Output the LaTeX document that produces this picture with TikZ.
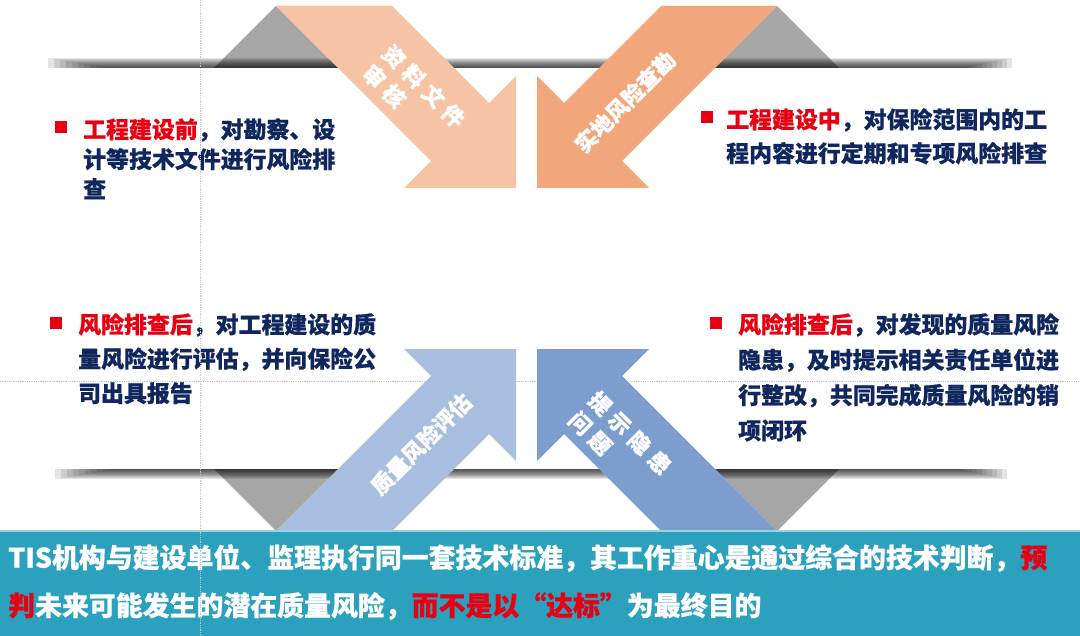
\documentclass[tikz,border=0pt]{standalone}
\usepackage{fontspec}
\newfontfamily\cjk{Noto Sans CJK SC}[BoldFeatures={FakeBold=0.6}]
\usetikzlibrary{positioning}
\definecolor{PeachArrow}{RGB}{246,196,165}
\definecolor{OrangeArrow}{RGB}{241,166,124}
\definecolor{PaleBlueArrow}{RGB}{168,190,222}
\definecolor{BlueArrow}{RGB}{124,158,207}
\definecolor{FoldGray}{RGB}{166,166,166}
\definecolor{BannerTeal}{RGB}{43,161,190}
\definecolor{BannerEdge}{RGB}{150,212,228}
\definecolor{NavyText}{RGB}{16,38,94}
\definecolor{KeyRed}{RGB}{232,0,18}
\tikzset{
  fold/.style={fill=FoldGray},
  arrowlabel/.style={text=white,inner sep=0pt,align=left,
    font=\cjk\bfseries\fontsize{22}{28}\selectfont},
  notetext/.style={text=NavyText,anchor=north west,inner sep=0pt,align=left,
    font=\cjk\bfseries\fontsize{23}{#1}\selectfont},
  bullet/.style={fill=KeyRed,minimum size=12bp,inner sep=0pt},
  bannertext/.style={text=white,anchor=west,inner sep=0pt,
    font=\cjk\bfseries\fontsize{27}{32}\selectfont},
  guide/.style={densely dotted,gray!45,line width=0.8bp}
}
\newcommand{\hl}[1]{\textcolor{KeyRed}{#1}}
\newcommand{\gap}{\hspace{6bp}}

\begin{document}
\begin{tikzpicture}[x=1bp,y=-1bp]
  \fill[white] (0,0) rectangle (1080,636);
  \useasboundingbox (0,0) rectangle (1080,636);

  \draw[guide] (0,381) -- (1080,381);

  % grey folds behind the bands
  \fill[fold] (214,68) -- (276,6) -- (338,68) -- cycle;
  \fill[fold] (715,68) -- (777,6) -- (839,68) -- cycle;
  \fill[fold] (214,469) -- (276,531) -- (338,469) -- cycle;
  \fill[fold] (715,469) -- (777,531) -- (839,469) -- cycle;

  % band shadows
  \foreach \k in {0,...,9}{
    \fill[black,opacity=0.1] (48+6*\k,58+\k) rectangle (1012-5*\k,68);
    \fill[black,opacity=0.1] (55+6*\k,469) rectangle (1007-5*\k,479-\k);
  }

  % four arrows
  \fill[PeachArrow] (276,6) -- (431,161) -- (404,188) -- (516,188)
    -- (516,76) -- (489,103) -- (392,6) -- cycle;
  \fill[OrangeArrow] (777,6) -- (622,161) -- (649,188) -- (537,188)
    -- (537,76) -- (564,103) -- (661,6) -- cycle;
  \fill[PaleBlueArrow] (276,531) -- (431,376) -- (404,349) -- (516,349)
    -- (516,461) -- (489,434) -- (392,531) -- cycle;
  \fill[BlueArrow] (777,531) -- (622,376) -- (649,349) -- (537,349)
    -- (537,461) -- (564,434) -- (661,531) -- cycle;

  \node[arrowlabel,rotate=-45] (review) at (414,96)
    {资\gap 料\gap 文\gap 件\\审\gap 核};
  \node[arrowlabel,rotate=45] (survey) at (625,102) {实地风险查勘};
  \node[arrowlabel,rotate=45] (assess) at (421,444) {质量风险评估};
  \node[arrowlabel,rotate=-45] (warn) at (620,443)
    {提\gap 示\gap 隐\gap 患\\问\gap 题};

  % notes
  \node[bullet] (bulletTL) at (61,127) {};
  \node[notetext=30] (noteTL) at (83,118)
    {\hl{工程建设前}，对勘察、设\\计等技术文件进行风险排\\查};
  \node[bullet] (bulletTR) at (707,117) {};
  \node[notetext=34] (noteTR) at (726,108)
    {\hl{工程建设中}，对保险范围内的工\\程内容进行定期和专项风险排查};
  \node[bullet] (bulletBL) at (56,323) {};
  \node[notetext=34.5] (noteBL) at (78,313)
    {\hl{风险排查后}，对工程建设的质\\量风险进行评估，并向保险公\\司出具报告};
  \node[bullet] (bulletBR) at (716,323) {};
  \node[notetext=35.5] (noteBR) at (738,313)
    {\hl{风险排查后}，对发现的质量风险\\隐患，及时提示相关责任单位进\\行整改，共同完成质量风险的销\\项闭环};

  % banner
  \fill[BannerTeal] (0,530) rectangle (1080,636);
  \draw[BannerEdge,line width=2bp] (0,531) -- (1080,531);
  \node[bannertext] (banner1) at (8,558)
    {TIS机构与建设单位、监理执行同一套技术标准，其工作重心是通过综合的技术判断，\hl{预}};
  \node[bannertext] (banner2) at (8,606)
    {\hl{判}未来可能发生的潜在质量风险，\hl{而不是以“达标”}为最终目的};

  \draw[guide] (200,0) -- (200,636);
\end{tikzpicture}
\end{document}
